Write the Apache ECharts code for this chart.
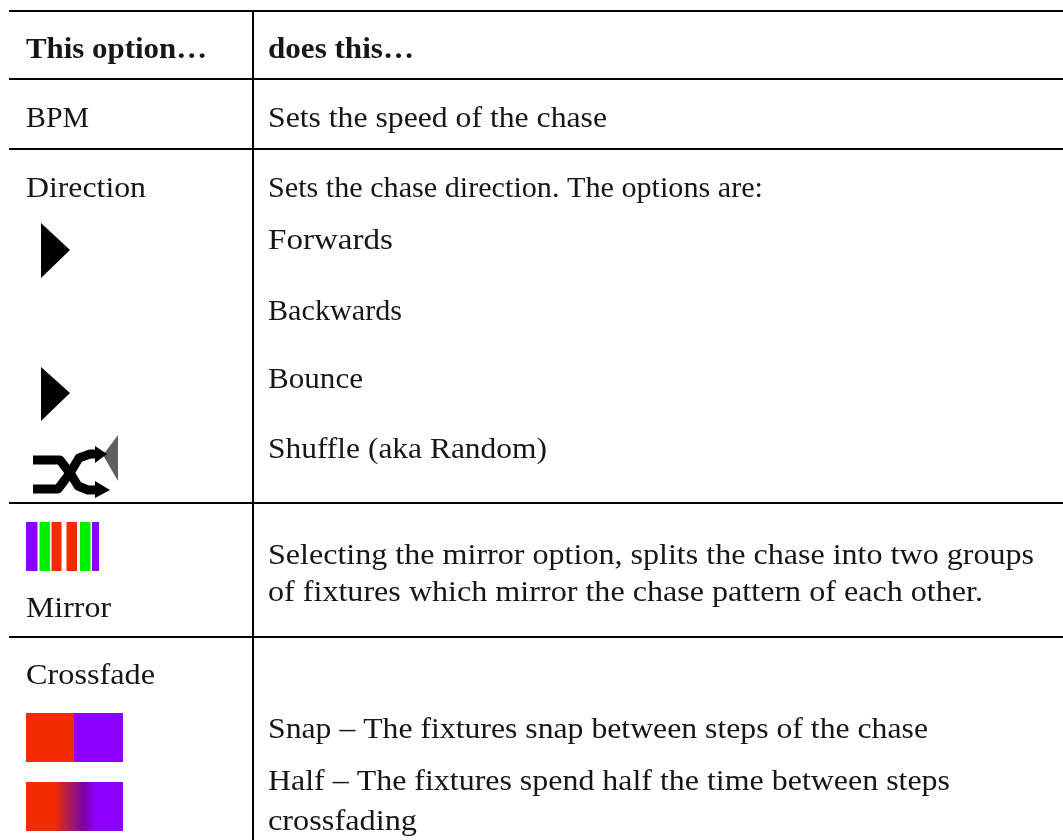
<!DOCTYPE html>
<html><head><meta charset="utf-8">
<style>html,body{margin:0;padding:0;background:#fff}#c{width:1063px;height:840px}</style>
<script src="https://cdn.jsdelivr.net/npm/echarts@6/dist/echarts.min.js"></script>
</head><body><div id="c"></div>
<script>
const headerLabels = ['This option…', 'does this…'];
const optionLabels = ['BPM', 'Direction', 'Mirror', 'Crossfade'];
const descriptionLines = [
  'Sets the speed of the chase',
  'Sets the chase direction. The options are:',
  'Forwards', 'Backwards', 'Bounce', 'Shuffle (aka Random)',
  'Selecting the mirror option, splits the chase into two groups',
  'of fixtures which mirror the chase pattern of each other.',
  'Snap – The fixtures snap between steps of the chase',
  'Half – The fixtures spend half the time between steps',
  'crossfading'
];
const FONT = '"Liberation Serif", serif', INK = '#161616', SIZE = 30;
const RED = '#f22a00', PURPLE = '#8c00ff', GREEN = '#00f000';
const rowLines = [11, 79, 149, 503, 637];
const headerBase = 58, headerRight = [207, 414];
const optionBase = [127, 197, 617, 684], optionRight = [89, 146, 111, 155];
const descBase = [127, 197, 249, 320, 388, 458, 564, 601, 738, 790, 830];
const descRight = [607, 763, 393, 402, 363, 547, 1034, 983, 928, 950, 417];
const g = [];
const ctx = document.createElement('canvas').getContext('2d');
function text(t, x, base, right, bold) {
  const font = (bold ? 'bold ' : '') + SIZE + 'px ' + FONT;
  ctx.font = font;
  const sx = (right - x) / ctx.measureText(t).width;
  g.push({type:'text', x, y: base - 7.5, scaleX: sx, style:{text:t, fill: INK, font, verticalAlign:'middle', align:'left'}});
}
rowLines.forEach(y => g.push({type:'rect', shape:{x:9,y:y-1,width:1054,height:2}, style:{fill:'#000'}}));
g.push({type:'rect', shape:{x:252,y:10,width:2,height:830}, style:{fill:'#000'}});
text(headerLabels[0], 26, headerBase, headerRight[0], true);
text(headerLabels[1], 268, headerBase, headerRight[1], true);
optionLabels.forEach((t,i)=>text(t, 26, optionBase[i], optionRight[i]));
descriptionLines.forEach((t,i)=>text(t, 268, descBase[i], descRight[i]));
[[223,250,278],[367,393,421]].forEach(a=>g.push({type:'polygon',shape:{points:[[41,a[0]],[70,a[1]],[41,a[2]]]},style:{fill:'#000'}}));
// shuffle icon
g.push({type:'polygon',shape:{points:[[118,435],[103,455],[118,481]]},style:{fill:'#5f5f5f'}});
[[[33,460],[60,460],[72,476],[78,486],[88,490],[100,490]],
 [[33,489],[58,489],[70,473],[79,458],[90,454],[100,454]]].forEach(p=>
  g.push({type:'polyline',shape:{points:p},style:{fill:'none',stroke:'#000',lineWidth:9,lineJoin:'round'}}));
g.push({type:'polygon',shape:{points:[[95,446],[107,454],[95,463]]},style:{fill:'#000'}});
g.push({type:'polygon',shape:{points:[[95,481],[110,490],[95,498]]},style:{fill:'#000'}});
// mirror stripes
[[26,37.5,PURPLE],[39.5,50,GREEN],[51.5,61.5,RED],[66.5,77,RED],[80,90.5,GREEN],[92,99,PURPLE]].forEach(s=>
  g.push({type:'rect',shape:{x:s[0],y:522,width:s[1]-s[0],height:49},style:{fill:s[2]}}));
// crossfade swatches
g.push({type:'rect',shape:{x:26,y:713,width:48,height:49},style:{fill:RED}});
g.push({type:'rect',shape:{x:74,y:713,width:49,height:49},style:{fill:PURPLE}});
g.push({type:'rect',shape:{x:26,y:782,width:97,height:49},style:{fill:{type:'linear',x:0,y:0,x2:1,y2:0,colorStops:[
  {offset:0,color:RED},{offset:0.30,color:RED},{offset:0.42,color:'#b5204a'},{offset:0.54,color:'#8a0c8c'},{offset:0.61,color:'#7c00a8'},{offset:0.72,color:PURPLE},{offset:1,color:PURPLE}]}}});
const chart = echarts.init(document.getElementById('c'), null, {renderer:'canvas'});
chart.setOption({animation:false, backgroundColor:'#fff', graphic:{elements:g}});
</script></body></html>
